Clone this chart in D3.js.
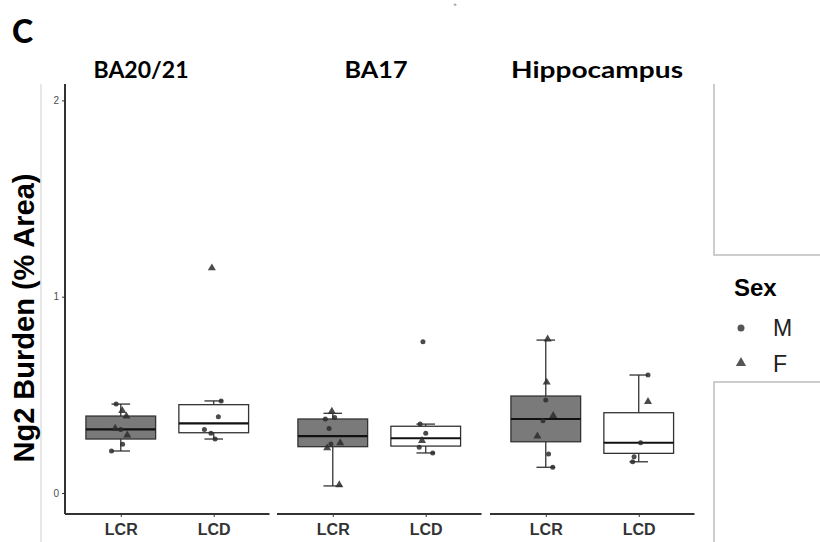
<!DOCTYPE html>
<html>
<head>
<meta charset="utf-8">
<script src="https://cdn.jsdelivr.net/npm/d3@7"></script>
<style>
  body { margin: 0; background: #fff; }
  svg { display: block; }
</style>
</head>
<body>
<svg id="chart" width="820" height="542"></svg>
<script>
var regions = ["BA20/21", "BA17", "Hippocampus"];
var groups = ["LCR", "LCD"];
var yTicks = [0, 1, 2];
var sexes = ["M", "F"];

// box stats per region, [LCR, LCD]
var whiskerLow  = [[0.214, 0.275], [0.036, 0.204], [0.131, 0.159]];
var q1          = [[0.275, 0.307], [0.236, 0.239], [0.261, 0.202]];
var medians     = [[0.324, 0.355], [0.290, 0.279], [0.377, 0.256]];
var q3          = [[0.392, 0.450], [0.377, 0.340], [0.494, 0.409]];
var whiskerHigh = [[0.453, 0.469], [0.406, 0.351], [0.779, 0.601]];

// raw points (value, sex, jitter in category units)
var pointValues = [
  [[0.453, 0.414, 0.386, 0.324, 0.324, 0.29, 0.248, 0.214], [0.469, 0.389, 0.324, 0.305, 0.275, 1.141]],
  [[0.41, 0.384, 0.377, 0.328, 0.25, 0.25, 0.224, 0.036], [0.771, 0.351, 0.304, 0.261, 0.233, 0.204]],
  [[0.779, 0.559, 0.474, 0.389, 0.368, 0.285, 0.199, 0.131], [0.601, 0.46, 0.256, 0.185, 0.159]]
];
var pointSex = [
  [["M", "F", "F", "F", "M", "F", "M", "M"], ["M", "M", "M", "M", "M", "F"]],
  [["F", "M", "M", "M", "M", "F", "F", "F"], ["M", "M", "M", "F", "M", "M"]],
  [["F", "F", "M", "F", "M", "F", "M", "M"], ["M", "F", "M", "M", "M"]]
];
var pointJitter = [
  [[-0.05, 0.016, 0.06, -0.06, 0, 0.07, 0.02, -0.1], [0.08, 0.05, -0.1, -0.03, 0.015, -0.02]],
  [[-0.01, 0.02, -0.08, -0.04, -0.02, 0.08, -0.06, 0.07], [-0.03, -0.06, 0, -0.04, -0.07, 0.075]],
  [[0.02, 0.01, 0, 0.08, -0.03, -0.09, 0.03, 0.075], [0.1, 0.1, 0.02, -0.05, -0.065]]
];

var svg = d3.select("#chart");
var font = "'Liberation Sans', Arial, sans-serif";

var y = d3.scaleLinear().domain([0, 2]).range([493, 100.4]);
var panelLeft = [65, 277, 490];
var panelWidth = 204.5;
var axisBottom = 514;

// frame lines of the pasted figure
svg.append("line").attr("x1", 41).attr("x2", 41).attr("y1", 84).attr("y2", 542)
  .attr("stroke", "#cfcfcf").attr("stroke-width", 1);
svg.append("path")
  .attr("d", "M714,84V255H820M820,382H714V542")
  .attr("fill", "none").attr("stroke", "#bdbdbd").attr("stroke-width", 1.5);

svg.append("text").attr("x", 12).attr("y", 43).text("C")
  .style("font-family", "Lato, sans-serif").style("font-weight", "900").style("font-size", "32px");
svg.append("text").attr("x", 455).attr("y", 9).attr("text-anchor", "middle").text("*")
  .style("font-family", font).style("font-size", "9px").style("fill", "#999");

// y axis title
svg.append("text")
  .attr("transform", "translate(34,318) rotate(-90)")
  .attr("text-anchor", "middle")
  .text("Ng2 Burden (% Area)")
  .style("font-family", font).style("font-weight", "bold").style("font-size", "29px").style("fill", "#000");

// y axis
var yAxis = svg.append("g").attr("transform", "translate(65,0)")
  .call(d3.axisLeft(y).tickValues(yTicks).tickSize(3).tickPadding(3).tickFormat(d3.format("d")));
yAxis.select(".domain").remove();
yAxis.selectAll(".tick line").attr("stroke", "#333");
yAxis.selectAll(".tick text").style("font-family", font).style("font-size", "10px").style("fill", "#4d4d4d");
svg.append("line").attr("x1", 65).attr("x2", 65).attr("y1", y(2.083)).attr("y2", axisBottom)
  .attr("stroke", "#333").attr("stroke-width", 2);

var titleX = [141, 376, 597];
var titleLen = [95, 63, 172];

regions.forEach(function(region, r) {
  var x = d3.scaleLinear().domain([0.4, 2.6]).range([panelLeft[r], panelLeft[r] + panelWidth]);
  var unit = x(1) - x(0);
  var g = svg.append("g");

  svg.append("text").attr("x", titleX[r]).attr("y", 78).attr("text-anchor", "middle").text(region)
    .attr("textLength", titleLen[r]).attr("lengthAdjust", "spacingAndGlyphs")
    .style("font-family", "Lato, sans-serif").style("font-weight", "bold").style("font-size", "23px");

  var xa = g.append("g").attr("transform", "translate(0," + axisBottom + ")")
    .call(d3.axisBottom(x).tickValues([1, 2]).tickSize(3).tickPadding(7)
      .tickFormat(function(d) { return groups[d - 1]; }));
  xa.select(".domain").remove();
  xa.selectAll(".tick line").attr("stroke", "#333");
  xa.selectAll(".tick text").style("font-family", font).style("font-weight", "bold")
    .style("font-size", "16px").style("fill", "#333");
  g.append("line").attr("x1", x(0.4)).attr("x2", x(2.6)).attr("y1", axisBottom).attr("y2", axisBottom)
    .attr("stroke", "#333").attr("stroke-width", 2);

  groups.forEach(function(grp, k) {
    var cx = x(k + 1);
    var half = unit * 0.75 / 2;
    var cap = unit * 0.1;
    var wl = g.append("g").attr("stroke", "#333").attr("stroke-width", 1.3);
    wl.append("line").attr("x1", cx).attr("x2", cx).attr("y1", y(q3[r][k])).attr("y2", y(whiskerHigh[r][k]));
    wl.append("line").attr("x1", cx).attr("x2", cx).attr("y1", y(q1[r][k])).attr("y2", y(whiskerLow[r][k]));
    wl.append("line").attr("x1", cx - cap).attr("x2", cx + cap).attr("y1", y(whiskerHigh[r][k])).attr("y2", y(whiskerHigh[r][k]));
    wl.append("line").attr("x1", cx - cap).attr("x2", cx + cap).attr("y1", y(whiskerLow[r][k])).attr("y2", y(whiskerLow[r][k]));

    g.append("rect")
      .attr("x", cx - half).attr("width", half * 2)
      .attr("y", y(q3[r][k])).attr("height", y(q1[r][k]) - y(q3[r][k]))
      .attr("fill", k === 0 ? "#7a7a7a" : "#fff")
      .attr("stroke", "#333").attr("stroke-width", 1.3);
    g.append("line").attr("x1", cx - half).attr("x2", cx + half)
      .attr("y1", y(medians[r][k])).attr("y2", y(medians[r][k]))
      .attr("stroke", "#111").attr("stroke-width", 2.2);

    pointValues[r][k].forEach(function(v, i) {
      var px = x(k + 1 + pointJitter[r][k][i]);
      var py = y(v);
      if (pointSex[r][k][i] === "M") {
        g.append("circle").attr("cx", px).attr("cy", py).attr("r", 2.5)
          .attr("fill", "#2b2b2b").attr("opacity", 0.85);
      } else {
        g.append("path").attr("d", d3.symbol(d3.symbolTriangle, 28)())
          .attr("transform", "translate(" + px + "," + (py - 1) + ")")
          .attr("fill", "#2b2b2b").attr("opacity", 0.85);
      }
    });
  });
});

// legend
var legend = svg.append("g");
legend.append("text").attr("x", 734).attr("y", 296).text("Sex")
  .style("font-family", font).style("font-weight", "bold").style("font-size", "24px");
sexes.forEach(function(s, i) {
  var ly = 328 + i * 36;
  if (s === "M") {
    legend.append("circle").attr("cx", 741).attr("cy", ly).attr("r", 3.5).attr("fill", "#555");
  } else {
    legend.append("path").attr("d", d3.symbol(d3.symbolTriangle, 45)())
      .attr("transform", "translate(741," + (ly - 1) + ")").attr("fill", "#555");
  }
  legend.append("text").attr("x", 773).attr("y", ly + 8).text(s)
    .style("font-family", font).style("font-size", "23px").style("fill", "#222");
});
</script>
</body>
</html>
